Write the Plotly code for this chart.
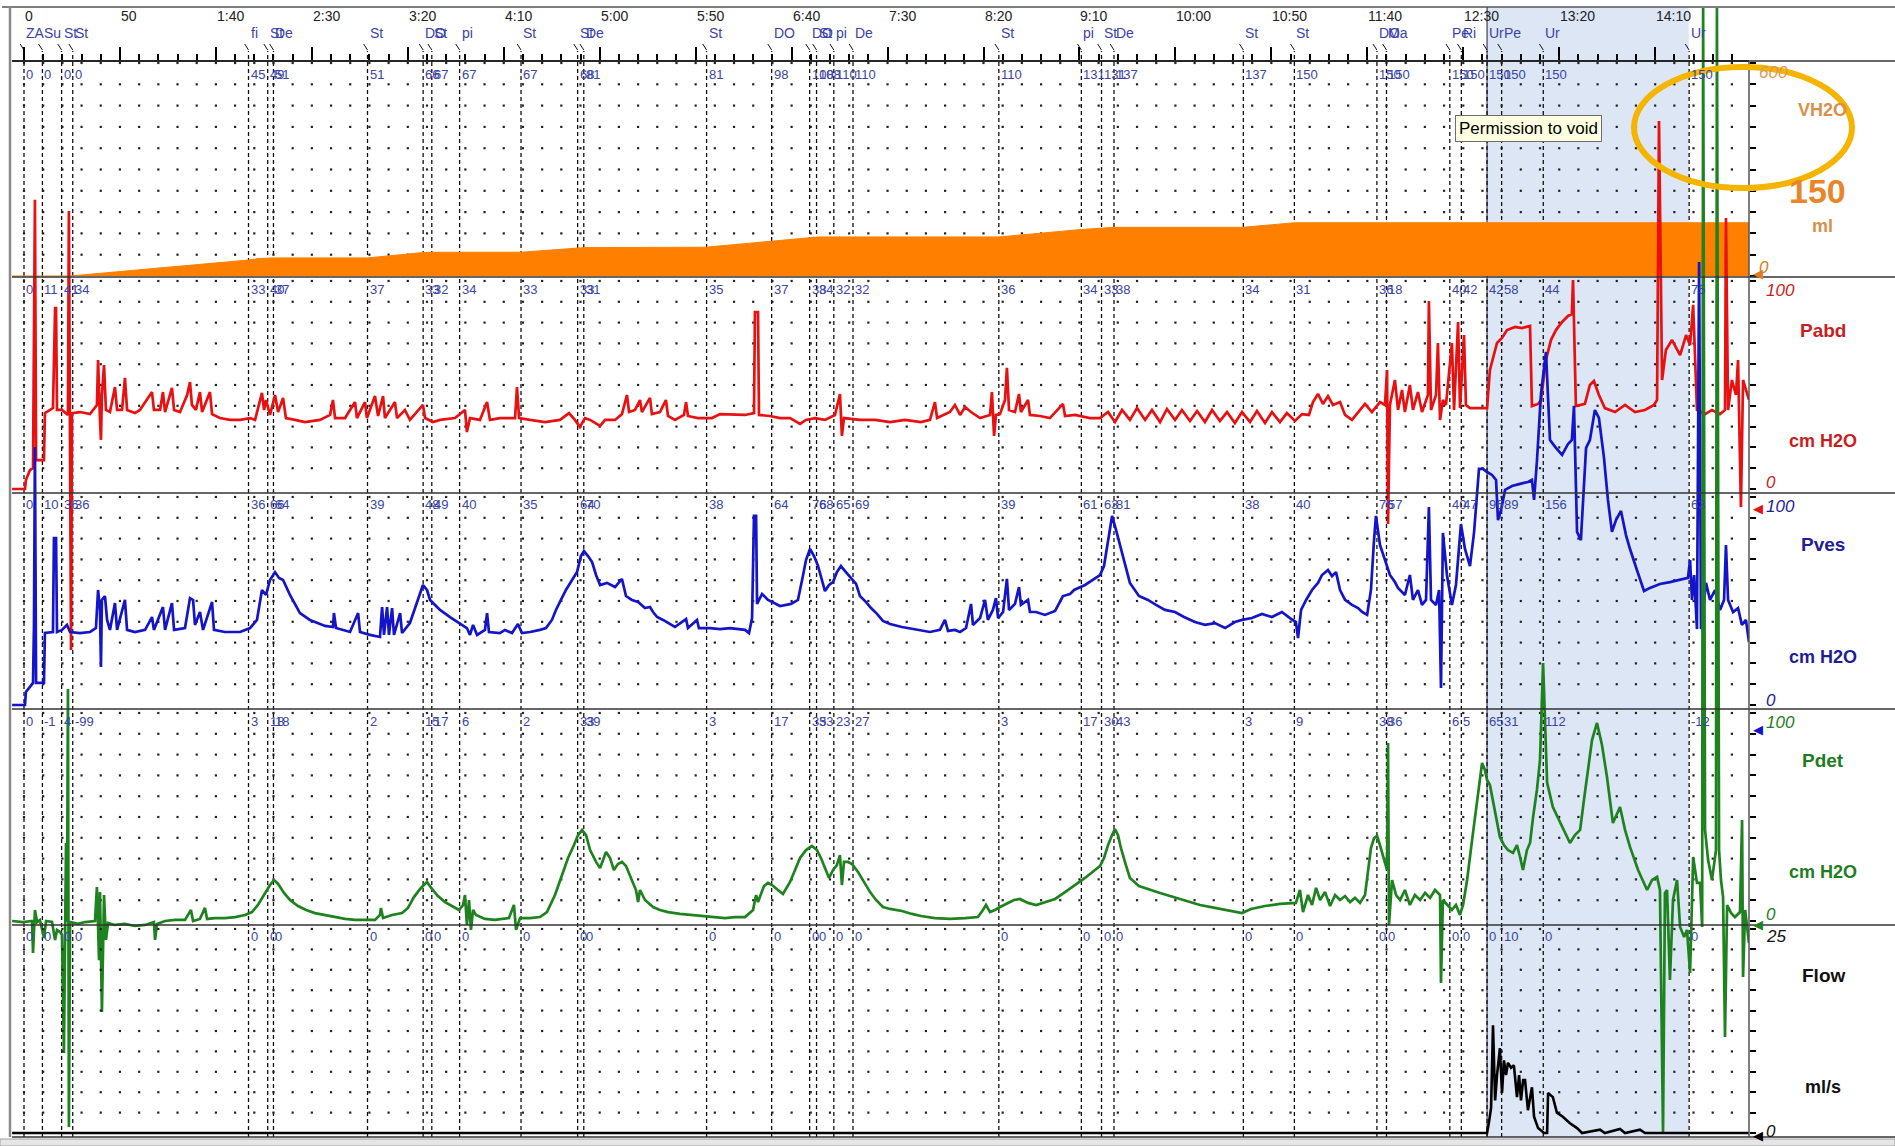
import plotly.graph_objects as go

# ------------------------------------------------------------------ data
TIME_TICKS = [0, 50, 100, 150, 200, 250, 300, 350, 400, 450, 500, 550, 600, 650, 700, 750, 800, 850]
TIME_LABELS = ["0", "50", "1:40", "2:30", "3:20", "4:10", "5:00", "5:50", "6:40", "7:30",
               "8:20", "9:10", "10:00", "10:50", "11:40", "12:30", "13:20", "14:10"]

EVENT_T = [0, 9.6, 19.6, 25.4, 117, 127, 130, 179, 208, 212.5, 227, 259, 288.5, 291.7, 355.7,
           389.6, 409.4, 413, 422, 432, 508, 551, 561.5, 568, 635.4, 662, 705, 710, 743, 749,
           762.4, 770, 791.7, 867.7]
EVENT_LABELS = ["ZA", "Su", "St", "St", "fi", "St", "De", "St", "DO", "St", "pi", "St", "St", "De",
                "St", "DO", "DO", "St", "pi", "De", "St", "pi", "St", "De", "St", "St", "DO", "Ma",
                "Pe", "Ri", "Ur", "Pe", "Ur", "Ur"]
EV_VH2O = [0, 0, 0, 0, 45, 49, 51, 51, 66, 67, 67, 67, 68, 81, 81, 98, 108, 108, 110, 110, 110,
           131, 131, 137, 137, 150, 150, 150, 150, 150, 150, 150, 150, 150]
EV_PABD = [0, 11, 41, 34, 33, 40, 37, 37, 33, 32, 34, 33, 33, 31, 35, 37, 38, 34, 32, 32, 36, 34,
           33, 38, 34, 31, 36, 18, 40, 42, 42, 58, 44, 75]
EV_PVES = [0, 10, 36, 36, 36, 66, 64, 39, 48, 49, 40, 35, 64, 70, 38, 64, 76, 68, 65, 69, 39, 61,
           63, 81, 38, 40, 76, 57, 40, 47, 96, 89, 156, 63]
EV_PDET = [0, -1, 4, -99, 3, 18, 18, 2, 15, 17, 6, 2, 33, 39, 3, 17, 35, 33, 23, 27, 3, 17, 30, 43,
           3, 9, 38, 36, 6, 5, 65, 31, 112, -12]
EV_FLOW = [0, 0, 0, 0, 0, 0, 0, 0, 0, 0, 0, 0, 0, 0, 0, 0, 0, 0, 0, 0, 0, 0, 0, 0, 0, 0, 0, 0,
           0, 0, 0, 10, 0, 0]

VOID_START, VOID_END = 762.4, 867.5
CURRENT_VOLUME = "150"

# (time s, ml)
VH2O = [(-6.2, 0), (24, 0), (117, 45), (122, 49), (130, 51), (179, 51), (208, 66), (213, 67),
        (259, 67), (292, 80), (355, 81), (390, 98), (410, 108), (414, 110), (508, 110), (551, 131),
        (568, 137), (635, 137), (662, 150), (898.9, 150)]

# (time s, cm H2O)
PABD = [(-6.2,0),(0.5,0),(1.0,4.3),(3.1,9.1),(4.7,10.1),(5.7,139),(6.3,13.9),(10.4,13.9),(10.9,36.5),
 (15.1,38.9),(16.2,87),(16.7,87),(17.2,38),(19.8,38),(22.9,35.6),(23.4,133.7),(24.5,-77.4),(25.0,36.5),
 (29.2,37),(34.4,36),(38.0,40.4),(38.6,62),(39.6,33.2),(40.1,23.6),(40.6,45.2),(41.7,59.6),(42.7,38),
 (44.8,37),(47.4,49),(48.5,38),(51.1,38),(52.6,53.4),(53.7,38),(57.8,36.5),(60.4,38),(66.7,46.6),
 (67.7,38),(70.9,38),(72.4,46.6),(73.5,37),(77.1,48.6),(78.2,38),(81.3,37),(85.0,45.2),(86.5,51.4),
 (87.5,40.4),(89.6,38),(91.7,46.6),(92.8,37),(96.9,46.6),(98.0,36),(102.1,34.1),(107.3,33.2),
 (112.6,33.2),(117.8,34.1),(120.4,33.2),(124.0,46.2),(125.1,38),(126.1,42.8),(128.2,35.6),(130.8,45.2),
 (132.4,37),(135.0,43.8),(136.5,34.1),(141.2,33.2),(146.4,32.2),(154.2,33.2),(159.5,35.6),(161.0,42.8),
 (162.1,34.1),(167.3,34.1),(172.5,41.8),(173.5,34.1),(177.7,41.8),(178.7,34.1),(182.9,44.7),(184.5,35.1),
 (187.1,44.7),(188.1,34.1),(193.3,41.8),(194.4,34.1),(198.5,38),(201.1,33.2),(207.9,40.4),(209.0,34.1),
 (213.1,32.2),(216.8,33.2),(224.6,34.1),(229.8,38),(230.8,27.4),(232.4,34.1),(237.6,33.2),(241.3,41.8),
 (242.8,33.2),(248.0,34.1),(255.9,34.1),(256.9,49),(258.0,34.1),(263.7,33.2),(271.5,32.2),(279.3,33.2),
 (284.0,36.5),(287.1,33.2),(289.7,29.8),(292.3,34.1),(295.0,33.2),(300.2,30.3),(302.8,33.2),(308.0,33.2),
 (311.6,36),(314.2,45.2),(315.3,37),(318.4,38),(321.0,42.8),(322.0,37),(326.2,43.8),(327.2,36),
 (331.4,37),(334.5,42.8),(335.6,35.1),(339.2,33.2),(343.9,35.6),(345.0,41.8),(346.0,35.1),(351.2,34.1),
 (358.5,34.1),(362.7,36),(370.5,35.6),(375.7,35.6),(380.4,36.5),(380.9,85.1),(382.5,85.1),(383.0,35.6),
 (388.7,35.1),(394.0,34.1),(399.2,34.1),(404.4,31.3),(407.5,33.2),(412.2,34.1),(417.4,33.2),(422.6,35.6),
 (425.2,45.7),(426.2,25.5),(427.3,34.1),(435.6,33.2),(443.5,33.2),(451.3,32.2),(459.1,33.2),(467.4,32.2),
 (472.1,33.2),(474.7,41.8),(475.8,34.1),(482.5,37),(485.1,40.4),(487.8,35.6),(490.4,39.4),(493.5,37),
 (498.2,34.1),(503.4,35.6),(504.4,46.6),(505.5,25.5),(506.5,35.6),(508.6,36),(511.2,42.8),(512.2,58.2),
 (513.3,38),(516.4,37),(518.5,45.7),(519.5,37),(523.2,42.8),(524.2,35.6),(529.4,35.1),(534.6,34.1),
 (541.4,40.9),(542.5,35.1),(547.7,35.6),(555.5,34.1),(560.7,34.1),(564.9,37),(568.5,32.2),(572.2,38),
 (576.3,33.2),(580.0,38.9),(584.2,33.2),(587.8,38),(592.0,32.2),(595.6,38.5),(599.8,33.2),(603.4,38),
 (607.6,32.7),(611.3,37.5),(615.4,32.2),(619.1,38),(623.2,32.7),(626.9,37),(631.0,31.7),(634.7,37),
 (638.9,32.2),(642.5,37.5),(646.7,31.7),(650.3,37),(654.5,32.2),(658.1,36.5),(662.3,32.7),(666.0,36),
 (669.6,35.6),(671.7,41.8),(674.3,45.7),(676.9,40.9),(679.5,44.7),(682.1,40.4),(685.8,41.8),(688.4,35.6),
 (692.0,33.2),(696.2,38),(698.8,40.9),(702.4,37),(706.6,41.8),(709.2,40.4),(710.3,57.2),(710.8,-16.8),
 (711.8,40.4),(714.4,52.4),(716.0,38),(718.1,47.6),(719.6,37),(722.2,50),(723.8,38),(726.4,46.6),
 (728.5,37),(731.6,45.2),(732.1,90.4),(733.2,38),(735.8,45.2),(736.8,70.2),(737.9,33.2),(739.4,42.8),
 (741.0,40.4),(744.1,70.2),(745.2,38),(747.3,80.3),(748.3,38.9),(750.4,74),(751.4,40.4),(753.5,38.9),
 (758.7,38.9),(762.4,38.9),(763.9,57.2),(766.0,63.9),(767.6,70.2),(770.2,72.6),(772.8,76.4),(777.0,77.9),
 (780.6,77.4),(784.8,78.4),(785.8,39.9),(789.0,40.9),(790.5,42.8),(793.1,62),(795.7,71.6),(798.3,76.4),
 (801.5,80.3),(804.6,83.2),(806.6,84.1),(807.2,100.5),(808.7,39.9),(813.4,40.9),(816.0,50),(818.1,51.9),
 (820.7,45.2),(823.8,38.9),(829.1,37),(834.3,40.4),(839.5,37),(844.7,38),(849.4,40.4),(851.0,42.8),
 (852.0,176.9),(853.6,52.4),(855.6,66.8),(858.8,71.6),(863.0,64.4),(866.1,74),(868.2,69.2),(869.8,88.5),
 (871.8,38),(876.0,36),(879.6,38),(883.8,36),(886.4,38),(886.9,130.3),(888.0,38),(890.0,52.4),
 (892.1,45.2),(893.2,62),(894.7,-8.7),(895.8,52.4),(897.3,47.6),(898.9,42.8)]

PVES = [(-6.2,0),(0.5,0),(1.0,6.3),(3.1,8.7),(4.7,10.6),(5.2,38.5),(5.7,124),(6.3,10.6),(10.4,10.6),
 (10.9,34.6),(15.1,35.1),(15.6,80.3),(16.7,80.3),(17.2,35.1),(19.8,36.1),(22.4,38.5),(24.0,35.1),
 (29.2,34.6),(34.4,35.1),(37.5,37),(38.6,55.3),(39.6,45.7),(40.1,18.3),(40.6,50.5),(42.2,52.4),
 (43.3,40.9),(44.8,36.1),(47.4,49),(48.5,36.1),(52.6,50.5),(53.7,36.1),(57.8,35.1),(63.1,36.1),
 (66.7,42.3),(67.7,36.1),(72.4,47.1),(73.5,36.1),(77.1,49),(78.2,36.1),(83.9,37),(86.5,51.4),
 (88.1,50.5),(89.1,38.5),(91.7,44.7),(93.3,36.1),(98.0,49.5),(99.0,36.1),(104.7,35.1),(112.6,35.1),
 (117.8,37),(121.4,40.9),(124.0,55.3),(126.1,52.9),(128.2,60.1),(130.8,63.9),(132.9,61.1),(135.0,60.1),
 (138.6,52.9),(143.8,44.2),(149.0,40.9),(152.7,39.4),(156.9,38),(161.0,37.5),(161.5,44.2),(162.6,37),
 (169.9,35.1),(174.1,44.2),(175.1,35.1),(180.3,33.7),(185.5,32.7),(186.6,47.1),(187.6,33.7),(189.2,47.1),
 (190.2,33.7),(191.8,46.6),(192.8,33.7),(196.0,44.2),(197.0,34.6),(201.1,39.4),(205.3,50.5),(207.9,57.7),
 (210.0,55.3),(211.6,50.5),(214.2,48.1),(216.8,45.7),(222.0,42.3),(227.2,39.4),(230.8,37),(232.4,33.7),
 (234.0,38.5),(236.1,33.7),(240.2,36.1),(241.3,44.2),(242.3,35.1),(248.0,34.6),(250.6,36.1),(254.3,34.6),
 (257.4,38.9),(259.5,34.6),(263.7,35.1),(268.9,36.1),(272.0,37),(275.1,40.9),(277.2,45.7),(279.8,50.5),
 (282.4,55.3),(285.6,60.1),(288.2,63.9),(290.2,71.6),(291.8,74),(293.9,71.6),(296.0,68.8),(298.1,62.5),
 (300.2,57.7),(303.8,58.7),(308.0,56.7),(311.6,60.6),(313.7,52.4),(316.8,50.5),(320.0,49.5),(323.6,46.6),
 (326.2,47.1),(327.8,44.7),(329.9,42.3),(333.0,40.9),(335.6,39.4),(339.2,37.5),(345.0,41.3),(346.0,37),
 (350.7,40.9),(351.7,37),(357.5,37),(362.7,36.5),(367.9,37),(373.1,36.5),(375.7,36.1),(377.8,34.6),
 (379.4,41.8),(380.4,90.9),(381.5,90.9),(382.0,48.6),(384.6,53.4),(387.7,50.5),(389.8,49.5),(394.0,47.6),
 (399.7,48.6),(403.3,50.5),(406.0,62.5),(407.5,69.7),(409.6,75),(411.7,71.6),(413.8,66.8),(415.8,60.1),
 (417.4,54.8),(419.5,57.7),(421.6,59.1),(423.6,63.9),(425.7,66.8),(428.3,63.9),(431.5,60.6),(433.6,58.2),
 (435.6,52.4),(438.8,49.5),(441.4,46.6),(444.5,43.8),(447.6,40.4),(451.3,38.9),(457.5,37.5),(464.3,36.5),
 (472.1,35.1),(477.3,36.1),(479.9,40.9),(481.5,35.6),(485.1,36.1),(487.8,35.1),(490.9,37),(493.5,48.6),
 (494.5,38.5),(498.2,41.8),(500.8,50.5),(502.3,40.9),(504.9,45.7),(506.5,51.4),(507.6,41.8),(510.2,44.7),
 (512.2,60.6),(513.3,45.7),(516.4,48.6),(518.5,56.7),(519.5,48.1),(523.2,50.5),(524.2,44.7),(527.4,44.7),
 (532.0,43.3),(537.3,45.2),(541.4,52.4),(545.1,53.4),(547.2,55.3),(552.9,57.7),(558.1,61.1),(560.7,62.5),
 (562.8,66.8),(564.9,79.3),(567.0,90.9),(569.1,84.1),(571.6,75),(574.2,64.9),(576.3,58.7),(581.0,52.4),
 (585.7,50.5),(589.9,48.1),(594.6,45.7),(599.8,44.7),(604.5,42.3),(610.2,39.9),(615.4,38.5),(620.6,39.4),
 (625.9,37),(631.0,39.9),(634.7,40.9),(639.9,41.8),(645.1,43.8),(650.3,42.3),(655.5,44.7),(659.7,41.8),
 (662.8,39.9),(663.9,32.2),(665.5,45.7),(668.1,50.5),(671.2,55.3),(674.3,58.7),(676.4,62.5),(679.5,64.9),
 (681.6,62),(683.7,63.9),(685.8,55.3),(688.4,50.5),(692.0,48.1),(695.2,46.6),(697.3,44.7),(699.9,43.3),
 (701.9,55.3),(703.5,79.3),(704.5,90.9),(706.6,76.9),(709.2,69.7),(711.8,62.5),(714.4,59.1),(716.0,56.3),
 (719.6,52.9),(722.2,62.5),(723.8,50.5),(726.4,55.3),(728.5,48.1),(730.6,50.5),(732.1,95.2),(733.2,50.5),
 (735.8,48.1),(737.4,55.3),(738.4,8.2),(739.4,82.7),(741.5,62.5),(744.1,48.1),(746.2,57.7),(748.8,87),
 (750.9,75),(753.5,66.8),(755.6,82.7),(758.2,113.5),(760.3,113.5),(762.4,112),(765.0,110.6),(767.1,108.2),
 (768.1,88.9),(769.7,93.8),(771.8,103.4),(775.4,105.3),(779.6,106.3),(783.7,107.2),(785.8,108.2),
 (786.9,98.6),(788.4,117.3),(790.5,149.5),(793.1,169.7),(794.2,143.8),(795.2,127.4),(798.3,123.6),
 (801.5,120.2),(804.6,125.5),(806.6,127.4),(807.7,143.8),(809.3,83.2),(811.3,79.3),(814.0,123.6),
 (816.0,127.4),(818.6,141.8),(820.7,138),(823.3,119.2),(825.4,98.6),(827.5,83.2),(829.6,88.9),
 (832.2,93.3),(834.8,81.7),(836.9,75),(840.5,64.9),(844.2,54.8),(847.3,56.3),(852.5,58.2),(857.7,59.1),
 (862.9,60.1),(867.1,61.1),(868.2,69.7),(869.2,50.5),(870.3,62.5),(871.8,36.5),(872.9,213),(873.9,36.5),
 (876.5,58.7),(878.6,50.5),(881.2,55.3),(883.8,45.7),(885.9,50.5),(886.9,76.9),(888.0,50.5),(890.6,44.7),
 (893.2,46.6),(895.2,38.5),(897.3,40.9),(898.9,30.3)]

PDET = [(-6.2,0),(-0.5,-0.5),(4.2,0),(4.7,-15.4),(5.7,5.3),(6.8,-0.5),(8.3,0.5),(10.4,-8.2),(11.5,0),
 (14.6,-0.5),(16.2,-9.1),(17.2,-4.3),(18.8,-5.3),(19.8,-6.7),(20.8,-63.5),(21.9,37.5),(22.4,-0.5),
 (22.9,111.5),(23.4,-99),(24.0,-0.5),(28.1,-1.4),(31.8,-0.5),(37.0,0),(38.0,16.3),(39.1,-18.8),
 (39.6,13.9),(40.6,-43.8),(41.7,12.5),(42.7,-9.1),(43.8,-1),(47.4,-1.9),(52.6,-1.4),(57.8,-2.4),
 (63.1,-1.9),(67.7,-0.5),(68.3,-9.1),(69.3,-1.4),(73.5,0),(78.7,0.5),(83.9,0.5),(87.0,5.3),(88.1,0),
 (91.7,1),(94.3,6.3),(95.4,1),(99.5,1.4),(104.7,1.4),(110.0,1.9),(115.2,2.9),(118.8,4.3),(121.9,7.7),
 (125.1,12.5),(128.2,17.3),(130.3,19.7),(132.4,17.8),(135.5,13.5),(138.6,10.1),(142.8,7.2),(147.0,5.3),
 (151.6,3.8),(156.9,2.9),(162.1,1.9),(167.3,1),(172.5,0.5),(178.7,0.5),(182.9,0.5),(185.5,2.9),
 (186.0,6.3),(187.1,1.4),(191.8,2.9),(197.0,3.8),(200.1,6.3),(203.2,11.5),(206.4,15.4),(210.0,18.8),
 (212.6,15.4),(215.7,12),(219.4,9.1),(223.0,7.2),(226.7,5.3),(228.8,7.7),(229.8,12.5),(230.8,-1.9),
 (231.9,10.1),(232.9,-4.3),(234.0,5.3),(235.5,2.9),(240.2,1),(245.4,0.5),(252.7,1.4),(255.3,7.7),
 (256.4,-4.3),(258.5,1.4),(263.7,1.4),(268.9,1.9),(272.5,4.3),(276.7,12.5),(280.3,22.1),(283.5,30.3),
 (286.6,36.5),(288.7,41.3),(290.8,43.8),(292.9,41.3),(295.0,34.1),(298.1,28.4),(300.2,25.5),(303.3,33.2),
 (305.4,30.3),(307.4,24.5),(309.5,27.4),(311.6,28.4),(313.7,26.4),(316.8,19.7),(318.9,14.9),(320.0,9.1),
 (321.0,14.9),(323.6,10.1),(327.8,6.7),(331.4,5.3),(335.6,4.3),(341.8,3.4),(347.1,2.9),(352.2,2.4),
 (357.5,1.9),(365.3,1.4),(370.5,1.9),(375.7,1.9),(379.9,5.3),(381.5,12.5),(382.5,9.1),(385.6,16.8),
 (387.7,18.3),(389.8,17.3),(392.9,14.9),(395.5,13),(399.2,18.8),(401.8,24.5),(404.4,30.3),(407.5,34.1),
 (410.6,36.1),(413.2,34.1),(415.3,30.3),(417.4,25.5),(419.5,20.7),(421.6,24.5),(423.6,26.9),(425.2,31.7),
 (426.2,17.3),(427.3,28.4),(429.4,28.4),(431.5,27.4),(434.6,23.6),(437.7,18.8),(440.9,13.9),(444.0,10.1),
 (447.6,6.7),(451.3,5.8),(457.5,4.8),(462.7,3.4),(467.4,2.4),(474.7,1.4),(482.5,1),(490.4,1.4),
 (497.1,1.9),(499.7,5.3),(501.3,7.7),(503.4,4.3),(506.0,5.3),(508.6,6.7),(512.8,8.7),(515.9,10.1),
 (519.0,10.6),(523.2,8.7),(527.4,7.7),(532.0,9.1),(537.3,10.6),(542.5,13.9),(547.2,16.8),(552.9,20.7),
 (558.1,24.5),(560.7,26.4),(562.8,30.3),(564.9,36.5),(567.0,41.3),(568.5,44.2),(570.1,41.3),(571.6,35.1),
 (574.2,26.9),(576.3,20.7),(581.0,16.8),(586.8,14.9),(592.0,13.5),(597.2,12),(604.5,10.1),(612.8,7.7),
 (620.6,6.3),(628.5,4.8),(634.7,3.8),(639.4,5.8),(646.7,7.2),(654.5,8.2),(662.8,8.7),(664.9,14.9),
 (666.5,4.3),(669.1,12.5),(671.2,7.7),(673.3,15.9),(675.4,10.1),(678.0,13.9),(680.6,7.2),(683.2,12.5),
 (685.8,10.1),(688.4,12),(691.0,9.1),(693.6,11.1),(696.2,8.7),(698.8,12.5),(700.4,24.5),(701.9,35.1),
 (703.5,39.9),(705.1,40.9),(706.6,36.5),(708.7,29.3),(710.3,24.5),(710.8,85.6),(711.3,-1.9),(712.9,19.7),
 (715.0,12.5),(717.1,10.1),(719.6,14.9),(722.2,7.7),(724.8,12.5),(727.5,10.1),(730.1,13.5),(732.7,11.1),
 (735.3,14.9),(737.9,12.5),(738.4,-29.8),(739.4,10.1),(741.5,7.7),(744.1,5.3),(746.2,7.7),(748.3,2.9),
 (749.9,7.7),(752.0,19.7),(754.6,38.9),(757.2,58.2),(759.8,76),(761.3,72.6),(762.4,67.8),(763.9,65.4),
 (766.0,55.8),(767.6,47.1),(769.1,40.4),(771.2,36.5),(773.3,34.1),(775.9,32.7),(778.0,36.5),(779.6,30.8),
 (781.1,24.5),(783.2,34.1),(784.8,37.5),(786.4,50),(788.4,63),(790.0,77.4),(791.6,124),(792.6,96.6),
 (793.7,66.4),(796.7,54.8),(800.4,47.6),(804.0,40.4),(805.6,37.5),(808.2,41.3),(810.9,43.8),(812.9,58.2),
 (814.5,69.2),(817.1,87),(819.7,95.2),(822.3,84.6),(824.9,69.2),(828.0,47.1),(831.7,54.8),(834.3,43.8),
 (836.9,35.6),(841.1,24.5),(845.8,14.9),(848.4,19.7),(851.0,21.2),(852.5,14.9),(854.1,-101.9),(855.1,13.5),
 (856.2,14.9),(857.7,-28.4),(859.3,10.1),(861.4,19.7),(863.0,-2.9),(865.1,-7.7),(866.6,-4.3),(868.2,-25),
 (869.8,30.8),(871.8,18.3),(873.4,18.3),(874.5,-2.9),(875.0,439),(876.0,43.8),(877.6,29.3),(879.6,19.7),
 (881.7,34.1),(882.2,439),(883.3,34.1),(884.3,19.7),(885.4,11.5),(886.4,-55.8),(887.5,7.7),(889.6,3.8),
 (891.6,1.9),(894.2,4.3),(895.3,48.6),(895.8,-26.9),(896.9,5.3),(897.9,-4.3),(898.9,-10.6)]

# (time s, ml/s)
FLOW = [(-6.2,0),(739.4,0),(762.4,0),(763.4,1.3),(764.5,3.1),(765.5,13.2),(766.6,4),(767.6,7.1),
 (769.1,10.4),(770.2,4.9),(771.2,8.9),(772.3,7.1),(773.3,8.6),(774.9,8),(776.4,8.3),(778.0,4.4),
 (779.1,7.1),(780.1,4),(781.2,6.5),(782.2,6.5),(783.7,2.8),(785.8,5.6),(786.9,2),(789.0,0.6),(792.1,0),
 (793.7,0),(794.2,4.9),(796.7,4.4),(798.8,2.5),(801.9,2),(805.6,1.2),(809.3,0.6),(811.9,0),(821.3,0.4),
 (823.8,0),(831.7,0.5),(834.3,0),(842.1,0.4),(844.7,0),(898.9,0)]

# ------------------------------------------------------------------ layout geometry
W, H = 1895, 1146
PL, PR, PT, PB = 12, 1749, 7, 1137          # plot area in pixels
T0_PX, PX_PER_S = 24, 1.919                  # time scale
AXIS_PX = 61                                 # time axis line


def fx(px):
    return (px - PL) / (PR - PL)


def fy(py):
    return (PB - py) / (PB - PT)


# name: (pixel of low, pixel of high, low value, high value, colour)
PANELS = [
    ("VH2O", 276, 63, 0, 600, "#FF8000"),
    ("Pabd", 489, 281, 0, 100, "#E81010"),
    ("Pves", 705, 497, 0, 100, "#1414C8"),
    ("Pdet", 921, 713, 0, 100, "#1E821E"),
    ("Flow", 1133, 929, 0, 25, "#000000"),
]
PANEL_LINES = [277, 493, 709, 925]
NUM_ROW_PX = [74, 289, 505, 721, 937]


def yrange(p0, p1, v0, v1):
    k = (v1 - v0) / (p0 - p1)
    return [v0 - (PB - p0) * k, v0 + (p0 - PT) * k]


xr = [(PL - T0_PX) / PX_PER_S, (PR - T0_PX) / PX_PER_S]

fig = go.Figure()
yaxes = ["y", "y2", "y3", "y4", "y5"]

# grid dots
grid_t = [10 * i for i in range(0, 90)]
for i, (name, p0, p1, v0, v1, col) in enumerate(PANELS):
    vals = [v0 + (v1 - v0) * k / 10 for k in range(1, 11)]
    xs, ys = [], []
    for v in vals:
        for t in grid_t:
            xs.append(t)
            ys.append(v)
    fig.add_trace(go.Scatter(x=xs, y=ys, mode="markers", yaxis=yaxes[i],
                             marker=dict(size=2.2, color="#222222", symbol="square"),
                             hoverinfo="skip"))

# volume fill
fig.add_trace(go.Scatter(x=[p[0] for p in VH2O], y=[p[1] for p in VH2O], mode="lines",
                         yaxis="y", fill="tozeroy", fillcolor="#FF8000",
                         line=dict(color="#FF8000", width=1), hoverinfo="skip"))
# flow
fig.add_trace(go.Scatter(x=[p[0] for p in FLOW], y=[p[1] for p in FLOW], mode="lines", yaxis="y5",
                         line=dict(color="#000000", width=2.6), hoverinfo="skip"))
for data, ax, col in [(PABD, "y2", "#E81010"), (PVES, "y3", "#1414C8"), (PDET, "y4", "#1E821E")]:
    fig.add_trace(go.Scatter(x=[p[0] for p in data], y=[p[1] for p in data], mode="lines",
                             yaxis=ax, line=dict(color=col, width=2.7), hoverinfo="skip"))

shapes = []
# voiding shade
shapes.append(dict(type="rect", xref="x", yref="paper", x0=VOID_START, x1=VOID_END, y0=0, y1=1,
                   fillcolor="#DCE6F5", line=dict(width=0), layer="below"))
shapes.append(dict(type="line", xref="x", yref="paper", x0=VOID_START, x1=VOID_START, y0=0, y1=1,
                   line=dict(color="#3C3C5A", width=1.2), layer="below"))
# event lines
for t in EVENT_T:
    shapes.append(dict(type="line", xref="x", yref="paper", x0=t, x1=t, y0=0, y1=fy(51),
                       line=dict(color="#111111", width=1.3, dash="4px,3px"), layer="below"))
    shapes.append(dict(type="line", xref="x", yref="paper", x0=t - 2.0, x1=t, y0=fy(44), y1=fy(50),
                       line=dict(color="#111111", width=1), layer="below"))
# frame lines
xr_end = fx(W)
for py in PANEL_LINES + [AXIS_PX, PB]:
    shapes.append(dict(type="line", xref="paper", yref="paper", x0=0, x1=xr_end, y0=fy(py), y1=fy(py),
                       line=dict(color="#333333", width=1.6)))
shapes.append(dict(type="line", xref="paper", yref="paper", x0=fx(2), x1=xr_end, y0=fy(7), y1=fy(7),
                   line=dict(color="#555555", width=1.5)))
shapes.append(dict(type="line", xref="paper", yref="paper", x0=fx(10), x1=fx(10), y0=0, y1=fy(7),
                   line=dict(color="#8A8A8A", width=2.5)))
shapes.append(dict(type="line", xref="paper", yref="paper", x0=1, x1=1, y0=0, y1=fy(AXIS_PX),
                   line=dict(color="#555555", width=1.5)))
# bottom bar
shapes.append(dict(type="rect", xref="paper", yref="paper", x0=fx(0), x1=xr_end, y0=fy(1146), y1=fy(1139),
                   fillcolor="#E6E6E6", line=dict(color="#A0A0A0", width=1)))
# highlight ellipse
shapes.append(dict(type="circle", xref="paper", yref="paper", x0=fx(1634), x1=fx(1852),
                   y0=fy(188), y1=fy(67), line=dict(color="#F5B400", width=6)))

ann = []
FONT = "Liberation Sans, Arial, sans-serif"
EV_COL = "#3A44A6"
# time labels, left-aligned at their ticks
for t, lab_txt in zip(TIME_TICKS, TIME_LABELS):
    ann.append(dict(x=t, y=fy(16), xref="x", yref="paper", text=lab_txt, showarrow=False,
                    xanchor="left", yanchor="middle", xshift=-1,
                    font=dict(family=FONT, size=14, color="#222222")))
for t, lab_txt in zip(EVENT_T, EVENT_LABELS):
    ann.append(dict(x=t, y=fy(33), xref="x", yref="paper", text=lab_txt, showarrow=False,
                    xanchor="left", yanchor="middle", xshift=0,
                    font=dict(family=FONT, size=14, color=EV_COL)))
for row, vals in zip(NUM_ROW_PX, [EV_VH2O, EV_PABD, EV_PVES, EV_PDET, EV_FLOW]):
    for t, v in zip(EVENT_T, vals):
        ann.append(dict(x=t, y=fy(row), xref="x", yref="paper", text=str(v), showarrow=False,
                        xanchor="left", yanchor="middle", xshift=0,
                        font=dict(family=FONT, size=13, color=EV_COL)))

# right-hand labels
def lab(text, px, py, color, size, bold=False, italic=False, anchor="center"):
    s = text
    if bold:
        s = "<b>" + s + "</b>"
    if italic:
        s = "<i>" + s + "</i>"
    ann.append(dict(x=fx(px), y=fy(py), xref="paper", yref="paper", text=s, showarrow=False,
                    xanchor=anchor, yanchor="middle", font=dict(family=FONT, size=size, color=color)))

lab("600", 1757, 73, "#D89A5A", 17, italic=True, anchor="left")
lab("VH2O", 1822, 110, "#D9904A", 18, bold=True)
lab(CURRENT_VOLUME, 1817, 191, "#E8862A", 34, bold=True)
lab("ml", 1822, 226, "#D9904A", 18, bold=True)
lab("0", 1757, 267, "#D08020", 17, italic=True, anchor="left")

for (name, unit, top_px, mid1, mid2, bot_px, col, top_txt) in [
        ("Pabd", "cm H2O", 290, 330, 441, 482, "#C81E1E", "100"),
        ("Pves", "cm H2O", 506, 544, 657, 700, "#1E1E96", "100"),
        ("Pdet", "cm H2O", 722, 760, 872, 914, "#1E7D1E", "100"),
        ("Flow", "ml/s", 937, 975, 1087, 1131, "#111111", "25")]:
    lab(top_txt, 1764, top_px, col, 17, italic=True, anchor="left")
    lab(name, 1823, mid1, col, 19, bold=True)
    lab(unit, 1823, mid2, col, 18, bold=True)
    lab("0", 1764, bot_px, col, 17, italic=True, anchor="left")

for py, col in [(273, "#E07B20"), (508, "#E81010"), (729, "#1414C8"), (924, "#1E821E"), (1135, "#000000")]:
    ann.append(dict(x=fx(1751), y=fy(py), xref="paper", yref="paper", text="◀", showarrow=False,
                    xanchor="left", yanchor="middle", font=dict(family="DejaVu Sans", size=13, color=col)))

# tooltip
ann.append(dict(x=fx(1528), y=fy(128), xref="paper", yref="paper", text="Permission to void",
                showarrow=False, xanchor="center", yanchor="middle", bgcolor="#FFFFE1",
                bordercolor="#6E6E6E", borderwidth=1, borderpad=3,
                font=dict(family=FONT, size=17, color="#000000")))

layout = dict(
    width=W, height=H,
    margin=dict(l=PL, r=W - PR, t=PT, b=H - PB, pad=0),
    paper_bgcolor="white", plot_bgcolor="white",
    showlegend=False, hovermode=False,
    shapes=shapes, annotations=ann,
    xaxis=dict(range=xr, anchor="free", position=fy(AXIS_PX), side="top",
               tickmode="array", tickvals=TIME_TICKS, ticktext=TIME_LABELS, showticklabels=False,
               ticks="outside", ticklen=13, tickwidth=2, tickcolor="#000000",
               minor=dict(tickmode="linear", tick0=0, dtick=10, ticks="outside", ticklen=6,
                          tickwidth=1.5, tickcolor="#000000", showgrid=False),
               showgrid=False, zeroline=False, showline=True, linecolor="#000000", linewidth=2),
)
for i, (name, p0, p1, v0, v1, col) in enumerate(PANELS):
    key = "yaxis" if i == 0 else "yaxis%d" % (i + 1)
    d = dict(range=yrange(p0, p1, v0, v1), side="right", anchor="x",
             tickmode="array", tickvals=[v0 + (v1 - v0) * k / 10 for k in range(11)],
             ticks="outside", ticklen=6, tickwidth=1.5, tickcolor="#000000",
             showticklabels=False, showgrid=False, zeroline=False, showline=False)
    if i > 0:
        d["overlaying"] = "y"
    layout[key] = d

fig.update_layout(**layout)
fig.write_html("out.html")
